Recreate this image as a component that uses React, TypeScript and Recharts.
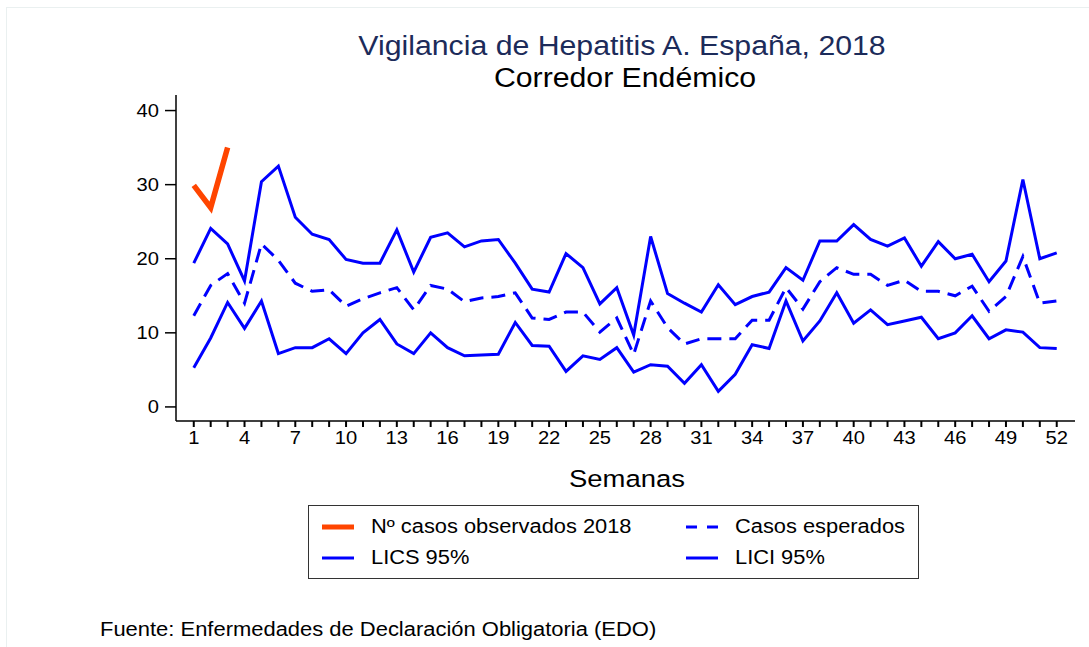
import React from 'react';
import { LineChart, Line, XAxis, YAxis } from 'recharts';

const weeks = [1, 2, 3, 4, 5, 6, 7, 8, 9, 10, 11, 12, 13, 14, 15, 16, 17, 18, 19, 20, 21, 22, 23, 24, 25, 26, 27, 28, 29, 30, 31, 32, 33, 34, 35, 36, 37, 38, 39, 40, 41, 42, 43, 44, 45, 46, 47, 48, 49, 50, 51, 52];

const observed2018 = [29.9, 26.9, 35.0];

const expected = [12.3, 16.4, 18.0, 14.0, 22.0, 19.8, 16.7, 15.6, 15.8, 13.6, 14.6, 15.4, 16.1, 13.1, 16.4, 15.9, 14.2, 14.7, 14.9, 15.4, 12.0, 11.8, 12.8, 12.8, 10.1, 12.0, 7.1, 14.3, 10.7, 8.5, 9.2, 9.2, 9.2, 11.7, 11.7, 16.1, 13.2, 16.9, 18.8, 17.9, 17.9, 16.4, 17.1, 15.6, 15.6, 15.0, 16.3, 12.9, 14.9, 20.3, 14.0, 14.3];

const lics95 = [19.4, 24.1, 22.0, 17.0, 30.4, 32.5, 25.6, 23.3, 22.6, 19.9, 19.4, 19.4, 23.9, 18.2, 22.9, 23.5, 21.6, 22.4, 22.6, 19.4, 15.9, 15.5, 20.7, 18.8, 13.9, 16.1, 9.7, 23.0, 15.3, 14.0, 12.8, 16.5, 13.8, 14.9, 15.5, 18.8, 17.1, 22.4, 22.4, 24.6, 22.6, 21.7, 22.8, 19.0, 22.3, 20.0, 20.6, 16.9, 19.7, 30.7, 20.0, 20.8];

const lici95 = [5.3, 9.3, 14.1, 10.6, 14.3, 7.2, 8.0, 8.0, 9.2, 7.2, 10.0, 11.8, 8.5, 7.2, 10.0, 8.0, 6.9, 7.0, 7.1, 11.4, 8.3, 8.2, 4.8, 6.9, 6.4, 8.0, 4.7, 5.7, 5.5, 3.2, 5.7, 2.1, 4.4, 8.4, 7.9, 14.3, 8.9, 11.6, 15.4, 11.3, 13.1, 11.1, 11.6, 12.1, 9.2, 10.0, 12.3, 9.2, 10.4, 10.1, 8.0, 7.9];

const yTicks = [0, 10, 20, 30, 40];
const xLabelWeeks = [1, 4, 7, 10, 13, 16, 19, 22, 25, 28, 31, 34, 37, 40, 43, 46, 49, 52];

const data = weeks.map((w, i) => ({
  week: w,
  obs: i < observed2018.length ? observed2018[i] : null,
  esp: expected[i],
  lics: lics95[i],
  lici: lici95[i],
}));

const FONT = '"Liberation Sans", Arial, Helvetica, sans-serif';
const BLUE = '#0000ff';
const ORANGE = '#ff4500';
const SX = 1.12;

const XTick = (props: any) => {
  const { x, y, payload } = props;
  if (!xLabelWeeks.includes(payload.value)) return null;
  return (
    <g transform={`translate(${x},${y})`}>
      <text transform={`scale(${SX},1)`} textAnchor="middle" dy={13} fontSize={18} fontFamily={FONT} fill="#000">
        {payload.value}
      </text>
    </g>
  );
};

const YTick = (props: any) => {
  const { x, y, payload } = props;
  return (
    <g transform={`translate(${x},${y})`}>
      <text transform={`scale(${SX},1)`} textAnchor="end" dy={6.5} fontSize={18} fontFamily={FONT} fill="#000">
        {payload.value}
      </text>
    </g>
  );
};

const textStyle = (left: number, top: number, size: number, color: string, center: boolean): React.CSSProperties => ({
  position: 'absolute',
  left,
  top,
  fontFamily: FONT,
  fontSize: size,
  lineHeight: 1,
  color,
  whiteSpace: 'nowrap',
  transform: center ? `translateX(-50%) scaleX(${SX})` : `scaleX(${SX})`,
  transformOrigin: center ? 'center' : 'left',
});

const LegendItem = ({ x, y, kind, label }: { x: number; y: number; kind: string; label: string }) => (
  <>
    <svg style={{ position: 'absolute', left: x, top: y - 5 }} width={32} height={10}>
      {kind === 'obs' && <line x1={0} y1={5} x2={32} y2={5} stroke={ORANGE} strokeWidth={5} />}
      {kind === 'dash' && <line x1={0} y1={5} x2={32} y2={5} stroke={BLUE} strokeWidth={3} strokeDasharray="11 10" />}
      {kind === 'solid' && <line x1={0} y1={5} x2={32} y2={5} stroke={BLUE} strokeWidth={3} />}
    </svg>
    <div style={textStyle(x + 49, y - 10.5, 19.5, '#000', false)}>{label}</div>
  </>
);

export default function App() {
  return (
    <div style={{ position: 'absolute', left: 0, top: 0, width: 1089, height: 647, background: '#fff', overflow: 'hidden' }}>
      <div style={{ position: 'absolute', left: 6, top: 7, width: 1083, height: 640, borderTop: '1px solid #eaf0f0', borderLeft: '1px solid #eaf0f0' }} />
      <div style={{ position: 'absolute', left: 0, top: 0 }}>
        <LineChart width={1089} height={647} data={data} margin={{ top: 95, right: 14, bottom: 196, left: 116 }}>
          <XAxis
            dataKey="week"
            type="number"
            domain={[-0.05, 53.08]}
            ticks={weeks}
            interval={0}
            height={30}
            tickSize={6}
            tickMargin={4}
            tick={<XTick />}
            axisLine={{ stroke: '#000', strokeWidth: 1.5 }}
            tickLine={{ stroke: '#000', strokeWidth: 2 }}
          />
          <YAxis
            type="number"
            domain={[-1.9, 42.1]}
            ticks={yTicks}
            interval={0}
            width={60}
            tickSize={11}
            tickMargin={6}
            tick={<YTick />}
            axisLine={{ stroke: '#000', strokeWidth: 1.5 }}
            tickLine={{ stroke: '#000', strokeWidth: 1.5 }}
          />
          <Line type="linear" dataKey="lics" stroke={BLUE} strokeWidth={3} dot={false} activeDot={false} isAnimationActive={false} />
          <Line type="linear" dataKey="lici" stroke={BLUE} strokeWidth={3} dot={false} activeDot={false} isAnimationActive={false} />
          <Line type="linear" dataKey="esp" stroke={BLUE} strokeWidth={3} strokeDasharray="14 8" dot={false} activeDot={false} isAnimationActive={false} />
          <Line type="linear" dataKey="obs" stroke={ORANGE} strokeWidth={5.5} dot={false} activeDot={false} connectNulls={false} isAnimationActive={false} />
        </LineChart>
      </div>
      <div style={textStyle(622, 33, 27, '#1c2b5a', true)}>Vigilancia de Hepatitis A. España, 2018</div>
      <div style={textStyle(625, 65, 27, '#000', true)}>Corredor Endémico</div>
      <div style={textStyle(627, 467, 24.5, '#000', true)}>Semanas</div>
      <div style={{ position: 'absolute', left: 308, top: 505, width: 609, height: 72, border: '1px solid #333' }} />
      <LegendItem x={322} y={527} kind="obs" label="Nº casos observados 2018" />
      <LegendItem x={686} y={527} kind="dash" label="Casos esperados" />
      <LegendItem x={322} y={558} kind="solid" label="LICS 95%" />
      <LegendItem x={686} y={558} kind="solid" label="LICI 95%" />
      <div style={textStyle(100, 620, 19.6, '#000', false)}>Fuente: Enfermedades de Declaración Obligatoria (EDO)</div>
    </div>
  );
}
